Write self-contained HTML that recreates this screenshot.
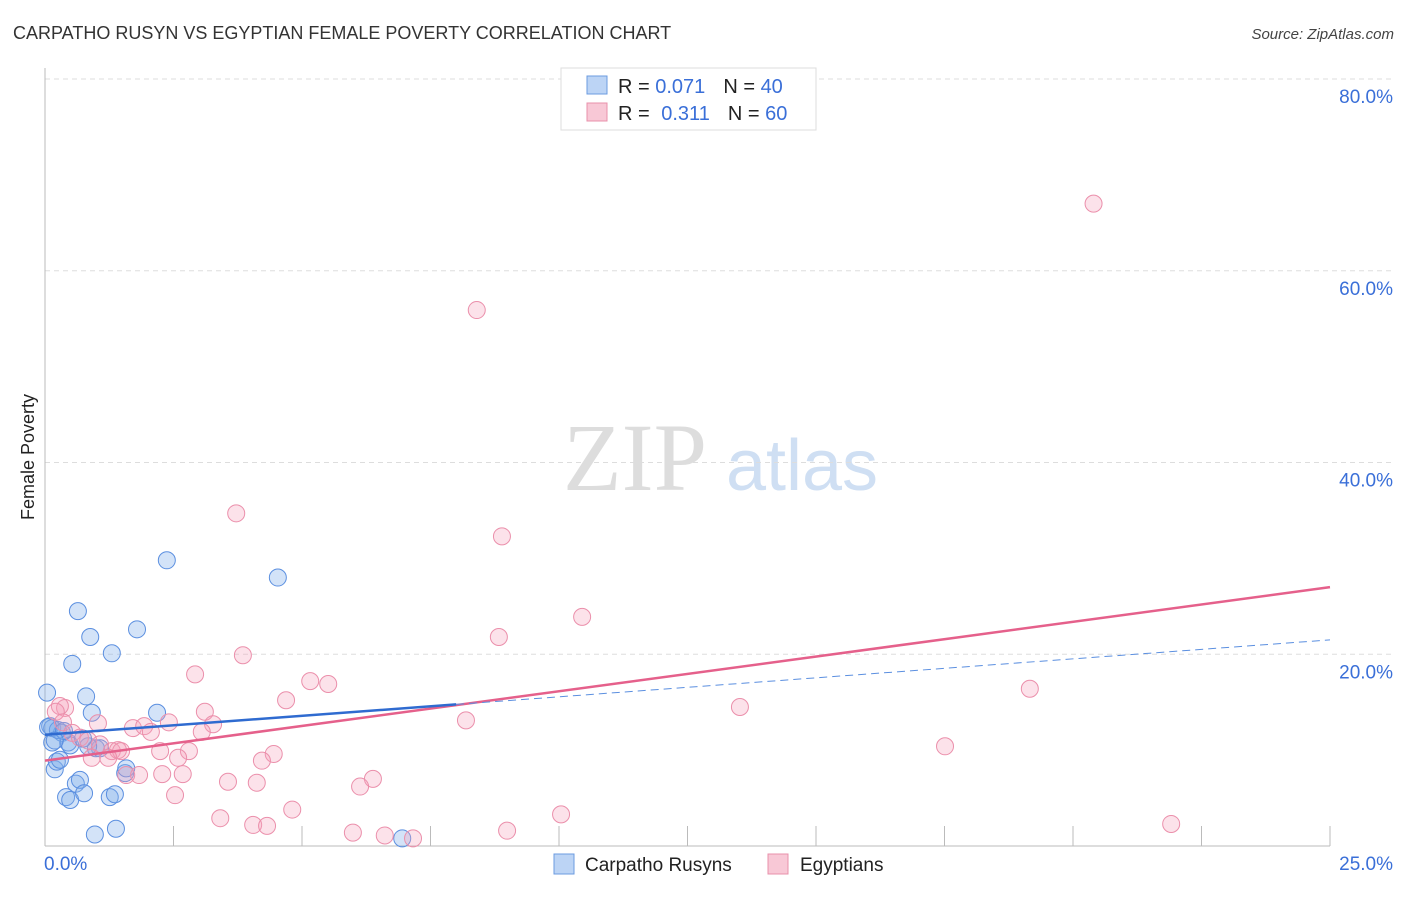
<!DOCTYPE html>
<html><head><meta charset="utf-8"><style>
body{margin:0;background:#fff;font-family:"Liberation Sans",sans-serif}
</style></head><body>
<svg id="chart" width="1406" height="892" xmlns="http://www.w3.org/2000/svg" font-family="Liberation Sans, sans-serif">
<text x="13" y="39" font-size="18" fill="#333">CARPATHO RUSYN VS EGYPTIAN FEMALE POVERTY CORRELATION CHART</text>
<text x="1394" y="39" font-size="15" font-style="italic" fill="#444" text-anchor="end">Source: ZipAtlas.com</text>
<text x="34" y="457" font-size="18" fill="#222" text-anchor="middle" transform="rotate(-90 34 457)">Female Poverty</text>
<g>
<text x="635" y="490" font-size="96" font-family="Liberation Serif, serif" fill="#ddd" text-anchor="middle">ZIP</text>
<text x="802" y="490" font-size="72" fill="#cfdff3" text-anchor="middle">atlas</text>
</g>
<g id="grid"></g><g id="axes"></g><g id="marks"></g>
<g>
<rect x="561" y="68" width="255" height="62" fill="#fff" stroke="#ddd"/>
<rect x="587" y="76" width="20" height="18" fill="#bcd4f5" stroke="#6b9be0"/>
<rect x="587" y="103" width="20" height="18" fill="#f8c8d6" stroke="#e890ab"/>
<text x="618" y="93" font-size="20" fill="#222">R = <tspan fill="#3a6fd8">0.071</tspan><tspan dx="18">N = </tspan><tspan fill="#3a6fd8">40</tspan></text>
<text x="618" y="120" font-size="20" fill="#222">R = <tspan dx="6" fill="#3a6fd8">0.311</tspan><tspan dx="18">N = </tspan><tspan fill="#3a6fd8">60</tspan></text>
</g>
<g>
<rect x="554" y="854" width="20" height="20" fill="#bcd4f5" stroke="#6b9be0"/>
<text x="585" y="871" font-size="19" fill="#222">Carpatho Rusyns</text>
<rect x="768" y="854" width="20" height="20" fill="#f8c8d6" stroke="#e890ab"/>
<text x="800" y="871" font-size="19" fill="#222">Egyptians</text>
</g>
</svg>
<script>
const blueX=[0.04,0.1,0.14,0.19,0.23,0.41,0.49,0.6,0.68,0.76,0.97,1.38,1.26,1.36,0.53,0.64,0.88,1.3,1.79,2.37,4.53,2.18,0.8,0.91,0.33,0.45,0.99,1.56,1.58,6.95,0.14,0.25,1.07,0.29,0.06,0.49,0.37,0.84,0.74,0.19];
const blueY=[16.0,12.5,12.3,8.0,8.8,5.1,4.8,6.5,6.9,5.5,1.2,1.8,5.1,5.4,19.0,24.5,21.8,20.1,22.6,29.8,28.0,13.9,15.6,13.9,11.8,10.8,10.2,7.6,8.1,0.8,10.8,12.1,10.2,9.0,12.4,10.5,12.0,10.4,11.2,11.0];
const pinkX=[20.4,8.4,3.72,8.89,8.83,10.45,3.85,2.92,5.16,5.51,4.69,3.11,19.16,13.52,17.51,8.19,3.27,1.71,1.93,2.41,2.06,3.05,1.03,0.39,0.29,0.21,0.35,0.53,0.68,0.84,1.07,1.3,1.42,1.48,1.23,0.91,2.24,2.8,2.59,4.45,4.22,1.58,1.83,2.28,2.68,3.56,4.12,6.38,6.13,2.53,4.81,3.41,4.05,4.32,5.99,6.61,7.16,8.99,10.04,21.91];
const pinkY=[67.0,55.9,34.7,32.3,21.8,23.9,19.9,17.9,17.2,16.9,15.2,14.0,16.4,14.5,10.4,13.1,12.7,12.3,12.5,12.9,11.9,11.9,12.8,14.4,14.6,14.0,12.9,11.8,11.3,11.0,10.6,9.9,10.0,9.9,9.2,9.2,9.9,9.9,9.2,9.6,8.9,7.4,7.4,7.5,7.5,6.7,6.6,7.0,6.2,5.3,3.8,2.9,2.2,2.1,1.4,1.1,0.8,1.6,3.3,2.3];
const yTicks=[20,40,60,80];
const yTickLabels=["20.0%","40.0%","60.0%","80.0%"];
const xTickVals=[0,25];
const xTickLabels=["0.0%","25.0%"];
const blueTrend=[11.6,21.5];
const pinkTrend=[8.9,27.0];
const blueSolidEnd=8;
const NS="http://www.w3.org/2000/svg";
const X=v=>45+v/25*1285, Y=v=>846-v*9.5875;
function mk(t,a,p){const e=document.createElementNS(NS,t);for(const k in a)e.setAttribute(k,a[k]);p.appendChild(e);return e;}
const grid=document.getElementById('grid'),axes=document.getElementById('axes'),marks=document.getElementById('marks');
yTicks.forEach((v,i)=>{
 const l=mk('line',{x1:45,x2:1395,y1:Y(v),y2:Y(v),stroke:'#ddd','stroke-dasharray':'5,4'},grid);
 
 
 const t=mk('text',{x:1393,y:Y(v)+24,'font-size':19,fill:'#3a6fd8','text-anchor':'end'},axes);
 t.textContent=yTickLabels[i];
 
 
});
const ax=mk('line',{x1:45,x2:45,y1:68,y2:846,stroke:'#bbb'},axes);


const bx=mk('line',{x1:45,x2:1330,y1:846,y2:846,stroke:'#bbb'},axes);


for(let i=1;i<=10;i++){const tk=mk('line',{x1:X(i*2.5),x2:X(i*2.5),y1:826,y2:846,stroke:'#bbb'},axes);
 
 }
xTickVals.forEach((v,i)=>{const t=mk('text',{x:v===0?X(v)-1:X(v)+63,y:870,'font-size':19,fill:'#3a6fd8','text-anchor':v===0?'start':'end'},axes);
 t.textContent=xTickLabels[i];
 
 });
blueX.forEach((x,i)=>{const c=mk('circle',{cx:X(x),cy:Y(blueY[i]),r:8.5,fill:'rgba(130,175,235,0.35)',stroke:'#5b8fe0','stroke-width':1},marks);
 
 });
pinkX.forEach((x,i)=>{const c=mk('circle',{cx:X(x),cy:Y(pinkY[i]),r:8.5,fill:'rgba(245,160,185,0.3)',stroke:'#eb8fab','stroke-width':1},marks);
 
 });
const bAt=x=>blueTrend[0]+(blueTrend[1]-blueTrend[0])*x/25;
const pl=mk('line',{x1:X(0),y1:Y(pinkTrend[0]),x2:X(25),y2:Y(pinkTrend[1]),stroke:'#e5608b','stroke-width':2.5},marks);


const bl=mk('line',{x1:X(0),y1:Y(bAt(0)),x2:X(blueSolidEnd),y2:Y(bAt(blueSolidEnd)),stroke:'#2f6bd0','stroke-width':2.5},marks);


const bd=mk('line',{x1:X(blueSolidEnd),y1:Y(bAt(blueSolidEnd)),x2:X(25),y2:Y(bAt(25)),stroke:'#5b8fe0','stroke-width':1,'stroke-dasharray':'8,5'},marks);


</script>
</body></html>
